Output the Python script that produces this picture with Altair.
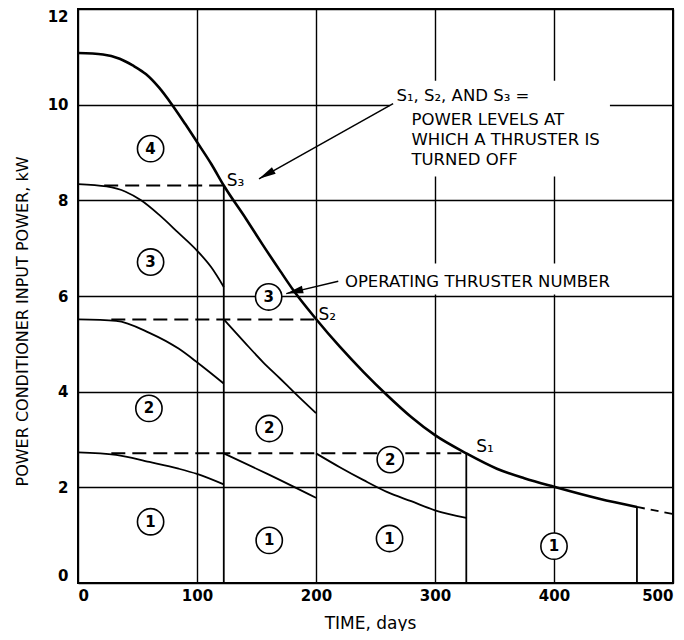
import altair as alt
import pandas as pd

FONT = "DejaVu Sans"

# ---- curves (TIME, days  vs  POWER, kW) ----
main_x = [0, 21, 35, 46, 57, 68, 79, 90, 100, 112, 122.5, 141, 155, 170, 181, 200,
          220, 240, 260, 280, 300, 326.3, 352, 375, 400, 438, 469.7]
main_y = [11.08, 11.05, 10.96, 10.82, 10.64, 10.36, 10.0, 9.60, 9.22, 8.76, 8.31, 7.62,
          7.08, 6.52, 6.12, 5.52, 4.94, 4.41, 3.92, 3.47, 3.09, 2.71, 2.39, 2.19, 2.01,
          1.76, 1.59]

thr3_x = [0, 24, 40, 53, 68, 84, 100, 112, 122.5]
thr3_y = [8.34, 8.29, 8.18, 8.0, 7.70, 7.33, 6.95, 6.60, 6.19]

thr2a_x = [0, 32, 60, 84.5, 100.8, 122.5]
thr2a_y = [5.51, 5.48, 5.23, 4.90, 4.60, 4.17]

thr1a_x = [0, 32, 60, 84.5, 100, 122.5]
thr1a_y = [2.73, 2.68, 2.53, 2.39, 2.28, 2.06]

thr2b_x = [122.5, 140, 155.4, 170, 181, 200]
thr2b_y = [5.51, 5.03, 4.62, 4.27, 4.0, 3.55]

thr1b_x = [122.5, 160, 200]
thr1b_y = [2.71, 2.27, 1.78]

thr1c_x = [200, 220, 240, 260, 280, 300, 326.3]
thr1c_y = [2.71, 2.42, 2.15, 1.90, 1.71, 1.52, 1.36]

tail_x = [469.7, 500]
tail_y = [1.59, 1.44]

# ---- switching levels S1, S2, S3 ----
s_level = [2.71, 5.51, 8.31]
s_dash_from = [28, 28, 22]
s_dash_to = [326.3, 200, 122.5]
s_label = ["S₁", "S₂", "S₃"]
s_label_x = [334.6, 202, 125]
s_label_y = [2.74, 5.49, 8.31]

drop_x = [122.5, 326.3, 469.7]
drop_top = [8.31, 2.71, 1.59]

# ---- operating thruster numbers ----
circle_num = ["4", "3", "2", "1", "3", "2", "1", "2", "1", "1"]
circle_x = [61, 61, 59.6, 61, 160.2, 160.7, 160.7, 262.4, 261.8, 400]
circle_y = [9.08, 6.71, 3.65, 1.28, 5.98, 3.23, 0.89, 2.58, 0.93, 0.77]

# ---- annotations ----
note_text = ["S₁, S₂, AND S₃ =", "POWER LEVELS AT", "WHICH A THRUSTER IS",
             "TURNED OFF", "OPERATING THRUSTER NUMBER"]
note_x = [267.6, 280.2, 280.2, 280.2, 224.3]
note_y = [10.08, 9.57, 9.15, 8.73, 6.19]

arrow_x = [264.8, 218.7]
arrow_y = [10.02, 6.31]
arrow_x2 = [152.1, 175.0]
arrow_y2 = [8.45, 6.05]
arrow_angle = [240.6, 256.3]

mask_x = [262, 222]
mask_x2 = [447, 474]
mask_y = [8.5, 6.03]
mask_y2 = [10.5, 6.68]

x_ticks = [0, 100, 200, 300, 400, 500]
y_ticks = [0, 2, 4, 6, 8, 10, 12]

# ---- tables ----
def curve(name, xs, ys):
    return pd.DataFrame({"x": xs, "y": ys, "s": name})

thin = pd.concat([
    curve("t3", thr3_x, thr3_y), curve("t2a", thr2a_x, thr2a_y),
    curve("t1a", thr1a_x, thr1a_y), curve("t2b", thr2b_x, thr2b_y),
    curve("t1b", thr1b_x, thr1b_y), curve("t1c", thr1c_x, thr1c_y),
])
main = curve("main", main_x, main_y)
tail = curve("tail", tail_x, tail_y)
dash = pd.DataFrame({"x": s_dash_from, "x2": s_dash_to, "y": s_level})
drops = pd.DataFrame({"x": drop_x, "y": [0] * 3, "y2": drop_top})
circles = pd.DataFrame({"x": circle_x, "y": circle_y, "t": circle_num})
slab = pd.DataFrame({"x": s_label_x, "y": s_label_y, "t": s_label})
notes = pd.DataFrame({"x": note_x, "y": note_y, "t": note_text})
arrows = pd.DataFrame({"x": arrow_x, "y": arrow_y, "x2": arrow_x2, "y2": arrow_y2,
                       "a": arrow_angle})
masks = pd.DataFrame({"x": mask_x, "x2": mask_x2, "y": mask_y, "y2": mask_y2})

xs = alt.Scale(domain=[0, 500], nice=False)
ys = alt.Scale(domain=[0, 12], nice=False)
xaxis = alt.Axis(values=x_ticks, labelPadding=5, titleX=292, titleY=40,
                 titleBaseline="middle", titleAlign="center", titleFontSize=17)
yaxis = alt.Axis(values=y_ticks, labelPadding=10, titleX=-56, titleY=312,
                 titleAngle=270, titleBaseline="middle", titleAlign="center",
                 titleFontSize=16)
X = alt.X("x:Q", scale=xs, axis=xaxis, title="TIME, days")
Y = alt.Y("y:Q", scale=ys, axis=yaxis, title="POWER CONDITIONER INPUT POWER, kW")

mask_layer = alt.Chart(masks).mark_rect(fill="white").encode(
    x=X, x2="x2:Q", y=Y, y2="y2:Q")
thin_layer = alt.Chart(thin).mark_line(color="black", strokeWidth=1.8,
                                       interpolate="monotone").encode(
    x=X, y=Y, detail="s:N")
main_layer = alt.Chart(main).mark_line(color="black", strokeWidth=2.6,
                                       interpolate="monotone").encode(x=X, y=Y)
tail_layer = alt.Chart(tail).mark_line(color="black", strokeWidth=1.8,
                                       strokeDash=[8, 6]).encode(x=X, y=Y)
dash_layer = alt.Chart(dash).mark_rule(color="black", strokeWidth=2,
                                       strokeDash=[14, 7]).encode(x=X, x2="x2:Q", y=Y)
drop_layer = alt.Chart(drops).mark_rule(color="black", strokeWidth=1.8).encode(
    x=X, y=Y, y2="y2:Q")
circ_layer = alt.Chart(circles).mark_point(shape="circle", filled=True, fill="white",
                                           stroke="black", strokeWidth=1.6, size=690,
                                           opacity=1).encode(x=X, y=Y)
circ_text = alt.Chart(circles).mark_text(font=FONT, fontSize=15, fontWeight="bold",
                                         color="black", baseline="middle").encode(
    x=X, y=Y, text="t:N")
slab_layer = alt.Chart(slab).mark_text(font=FONT, fontSize=17, color="black",
                                       align="left", baseline="alphabetic").encode(
    x=X, y=Y, text="t:N")
note_layer = alt.Chart(notes).mark_text(font=FONT, fontSize=16.5, color="black",
                                        align="left", baseline="alphabetic").encode(
    x=X, y=Y, text="t:N")
arrow_line = alt.Chart(arrows).mark_rule(color="black", strokeWidth=1.5).encode(
    x=X, y=Y, x2="x2:Q", y2="y2:Q")
arrow_head = alt.Chart(arrows).mark_point(shape="M0,0L0.45,2L-0.45,2Z", filled=True,
                                          color="black", size=289, opacity=1).encode(
    x=alt.X("x2:Q", scale=xs, axis=xaxis, title="TIME, days"),
    y=alt.Y("y2:Q", scale=ys, axis=yaxis, title="POWER CONDITIONER INPUT POWER, kW"),
    angle=alt.Angle("a:Q", scale=None))

chart = alt.layer(
    mask_layer, thin_layer, main_layer, tail_layer, dash_layer, drop_layer,
    circ_layer, circ_text, slab_layer, note_layer, arrow_line, arrow_head,
).properties(
    width=595, height=574,
    autosize=alt.AutoSizeParams(type="none"),
    padding={"left": 70, "top": 1, "right": 3, "bottom": 48},
    background="white",
).configure_view(
    stroke="black", strokeWidth=2,
).configure_axis(
    grid=True, gridColor="black", gridOpacity=1, gridWidth=1.4,
    domain=False, ticks=False, labelFlush=True,
    labelFont=FONT, labelFontSize=15, labelFontWeight="bold", labelColor="black",
    titleFont=FONT, titleFontWeight="normal", titleColor="black",
)

chart.save("out.html", embed_options={"renderer": "svg", "actions": False})
